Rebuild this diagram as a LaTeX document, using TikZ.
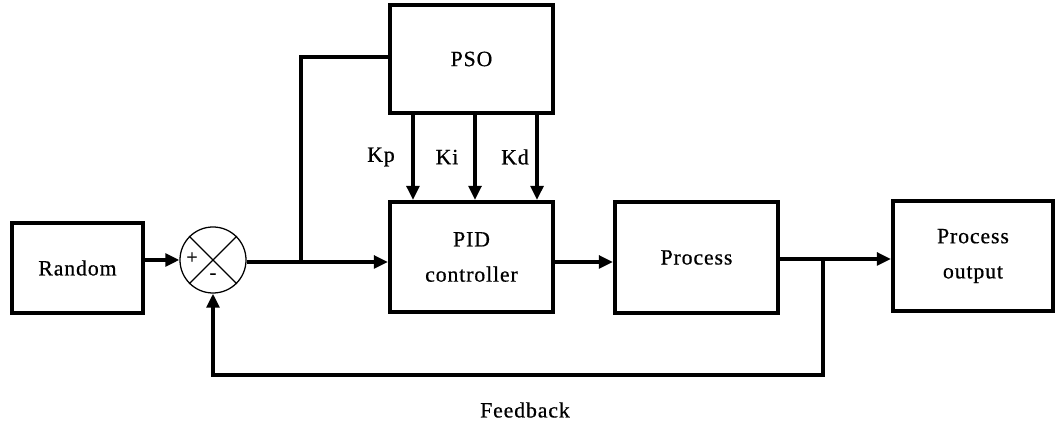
\documentclass[tikz,border=0pt]{standalone}
\usepackage{fontspec}
\setmainfont[LetterSpace=4,FakeBold=0.6]{Liberation Serif}
\usetikzlibrary{arrows.meta,calc}
\begin{document}
\begin{tikzpicture}[x=0.025cm,y=-0.025cm,
  blk/.style={draw,line width=2.8pt,rectangle,align=center,font=\fontsize{15.5}{22}\selectfont,inner sep=0pt},
  wire/.style={line width=2.8pt},
  mainwire/.style={line width=3.4pt},
  arr/.style={-{Triangle[length=10pt,width=9pt]}},
  lbl/.style={font=\fontsize{15.5}{16}\selectfont}]
\useasboundingbox (0,0) rectangle (1061,425);

% blocks
\node[blk,minimum width=3.275cm,minimum height=2.25cm] (rand) at (77.5,268) {Random};
\node[blk,minimum width=4.075cm,minimum height=2.7cm] (pso) at (471.5,59) {PSO};
\node[blk,minimum width=4.075cm,minimum height=2.75cm] (pid) at (471.5,257) {PID\\[3pt]controller};
\node[blk,minimum width=4.075cm,minimum height=2.775cm] (proc) at (696.5,257.5) {Process};
\node[blk,minimum width=4.0cm,minimum height=2.75cm] (out) at (973,256) {Process\\[3pt]output};

% summing junction
\node[draw,circle,line width=0.9pt,minimum size=1.65cm,inner sep=0pt] (sum) at (213,260) {};
\draw[line width=0.9pt] (sum.north west) -- (sum.south east);
\draw[line width=0.9pt] (sum.north east) -- (sum.south west);
\node[font=\fontsize{14}{14}\selectfont] (plus) at (192,258) {+};
\node[font=\fontsize{14}{14}\selectfont] (minus) at (213,276) {-};

% forward path
\draw[wire,arr] (rand.east |- sum.west) -- (sum.west);
\coordinate (j1) at (301,262);
\draw[mainwire,arr] (sum.east |- j1) -- (pid.west |- j1);
\draw[wire] (j1) -- (j1 |- 0,57) -- (pso.west |- 0,57);
\draw[mainwire,arr] (pid.east |- 0,262) -- (proc.west |- 0,262);
\coordinate (j2) at (823,259);
\draw[wire,arr] (proc.east |- j2) -- (out.west |- j2);

% gains from the optimiser
\draw[wire,arr] ([xshift=-1.4625cm]pso.south) -- ([xshift=-1.4625cm]pid.north);
\draw[wire,arr] ([xshift=0.0875cm]pso.south) -- ([xshift=0.0875cm]pid.north);
\draw[wire,arr] ([xshift=1.6375cm]pso.south) -- ([xshift=1.6375cm]pid.north);
\node[lbl] (kp) at (381,157) {Kp};
\node[lbl] (ki) at (447,157) {Ki};
\node[lbl] (kd) at (515,157) {Kd};

% feedback loop
\coordinate (fb) at (823,375);
\draw[wire,arr] (j2) -- (fb) -- (sum.south |- fb) -- (sum.south);
\node[lbl] (fblabel) at (525,410) {Feedback};
\end{tikzpicture}
\end{document}
